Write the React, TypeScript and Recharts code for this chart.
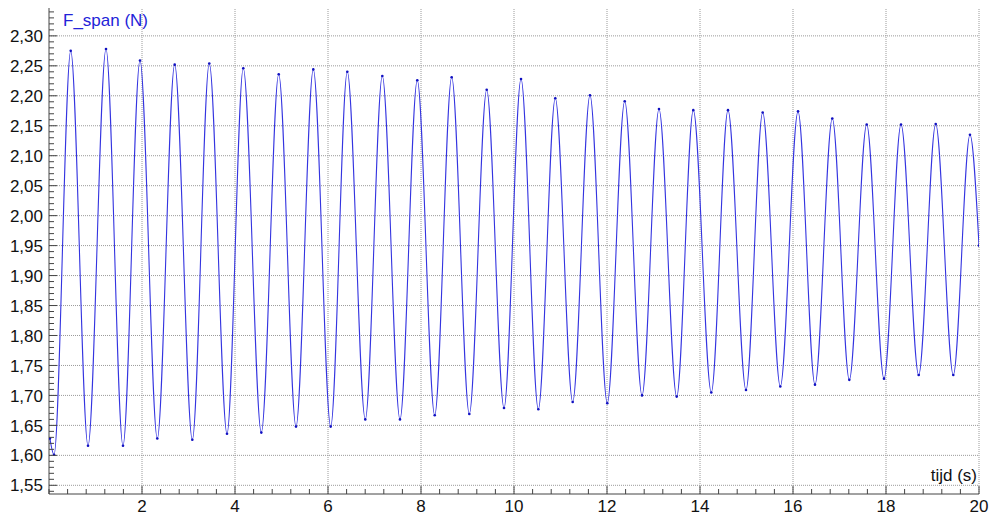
import React from "react";
import { LineChart, Line, XAxis, YAxis, ReferenceLine } from "recharts";

// extrema of F_span (time in s, force in N)
const START_T = [0.02];
const START_F = [1.628];
const PEAK_T = [0.467, 1.226, 1.957, 2.703, 3.447, 4.178, 4.94, 5.684, 6.415, 7.168, 7.92, 8.66, 9.413, 10.151, 10.888, 11.634, 12.381, 13.118, 13.856, 14.602, 15.348, 16.108, 16.845, 17.585, 18.323, 19.069, 19.806];
const PEAK_F = [2.275, 2.278, 2.259, 2.252, 2.254, 2.246, 2.236, 2.244, 2.24, 2.233, 2.226, 2.231, 2.21, 2.228, 2.196, 2.201, 2.191, 2.178, 2.176, 2.176, 2.172, 2.174, 2.162, 2.152, 2.152, 2.153, 2.135];
const TROUGH_T = [0.108, 0.839, 1.591, 2.329, 3.082, 3.828, 4.566, 5.312, 6.058, 6.802, 7.548, 8.295, 9.039, 9.785, 10.523, 11.262, 12.006, 12.753, 13.499, 14.243, 14.989, 15.727, 16.473, 17.211, 17.957, 18.703, 19.447];
const TROUGH_F = [1.601, 1.616, 1.616, 1.628, 1.626, 1.636, 1.638, 1.648, 1.648, 1.66, 1.66, 1.667, 1.669, 1.679, 1.677, 1.689, 1.687, 1.7, 1.698, 1.705, 1.709, 1.715, 1.718, 1.726, 1.728, 1.734, 1.734];
const END_T = [20];
const END_F = [1.95];

// axes
const X_GRID = [2, 4, 6, 8, 10, 12, 14, 16, 18, 20];
const Y_GRID = [1.55, 1.6, 1.65, 1.7, 1.75, 1.8, 1.85, 1.9, 1.95, 2.0, 2.05, 2.1, 2.15, 2.2, 2.25, 2.3];
const X_TICKS = Array.from({ length: 51 }, (_, i) => +(i * 0.4).toFixed(1));
const Y_TICKS = Array.from({ length: 81 }, (_, i) => +(1.54 + i * 0.01).toFixed(2));

const pairs = (t: number[], f: number[]) => t.map((x, i) => ({ t: x, f: f[i] }));
const data = [
  ...pairs(START_T, START_F),
  ...pairs(PEAK_T, PEAK_F),
  ...pairs(TROUGH_T, TROUGH_F),
  ...pairs(END_T, END_F),
].sort((a, b) => a.t - b.t);

const FONT = "'Liberation Sans', Arial, sans-serif";
const AXIS = "#444";
const isMult = (v: number, step: number) => Math.abs(v / step - Math.round(v / step)) < 1e-6;

const YTick = (props: any) => {
  const { x, y, payload } = props;
  const v = payload.value as number;
  const major = isMult(v, 0.05);
  const ax = x + 5;
  return (
    <g>
      <line x1={ax} x2={ax + (major ? 8 : 5)} y1={y} y2={y} stroke={AXIS} strokeWidth={1} />
      {major && (
        <text x={x - 1} y={y} dy="0.36em" textAnchor="end" fontSize={17} fontFamily={FONT} fill="#111">
          {v.toFixed(2).replace(".", ",")}
        </text>
      )}
    </g>
  );
};

const XTick = (props: any) => {
  const { x, y, payload } = props;
  const v = payload.value as number;
  const major = isMult(v, 2) && v > 0;
  const ay = y - 6;
  return (
    <g>
      <line x1={x} x2={x} y1={ay} y2={ay - (major ? 8 : 5)} stroke={AXIS} strokeWidth={1} />
      {major && (
        <text x={x} y={y} dy="0.71em" textAnchor="middle" fontSize={17} fontFamily={FONT} fill="#111">
          {v}
        </text>
      )}
    </g>
  );
};

export default function App() {
  return (
    <div style={{ position: "absolute", left: 0, top: 0, width: 1000, height: 521, background: "#fff" }}>
      <LineChart width={1000} height={521} data={data} margin={{ top: 8, right: 21, left: 0, bottom: 0 }}>
        <XAxis
          dataKey="t"
          type="number"
          domain={[0, 20]}
          ticks={X_TICKS}
          interval={0}
          tickSize={0}
          tickMargin={6}
          tickLine={false}
          tick={<XTick />}
          axisLine={{ stroke: AXIS }}
          height={27}
          allowDataOverflow
        />
        <YAxis
          type="number"
          domain={[1.5355, 2.3465]}
          ticks={Y_TICKS}
          interval={0}
          tickSize={0}
          tickMargin={5}
          tickLine={false}
          tick={<YTick />}
          axisLine={{ stroke: AXIS }}
          width={49}
          allowDataOverflow
        />
        {Y_GRID.map((v) => (
          <ReferenceLine key={"y" + v} y={v} stroke="#9a9a9a" strokeDasharray="1 1" />
        ))}
        {X_GRID.map((v) => (
          <ReferenceLine key={"x" + v} x={v} stroke="#9a9a9a" strokeDasharray="1 1" />
        ))}
        <Line
          dataKey="f"
          type="monotone"
          stroke="#3434e0"
          strokeWidth={1.1}
          dot={{ r: 1.3, fill: "#1010c0", stroke: "none" }}
          isAnimationActive={false}
        />
      </LineChart>
      <div style={{ position: "absolute", left: 63, top: 12, fontFamily: FONT, fontSize: 17, lineHeight: "17px", color: "#2323d8" }}>
        F_span (N)
      </div>
      <div style={{ position: "absolute", right: 23, top: 467, fontFamily: FONT, fontSize: 17, lineHeight: "17px", color: "#111" }}>
        tijd (s)
      </div>
    </div>
  );
}
